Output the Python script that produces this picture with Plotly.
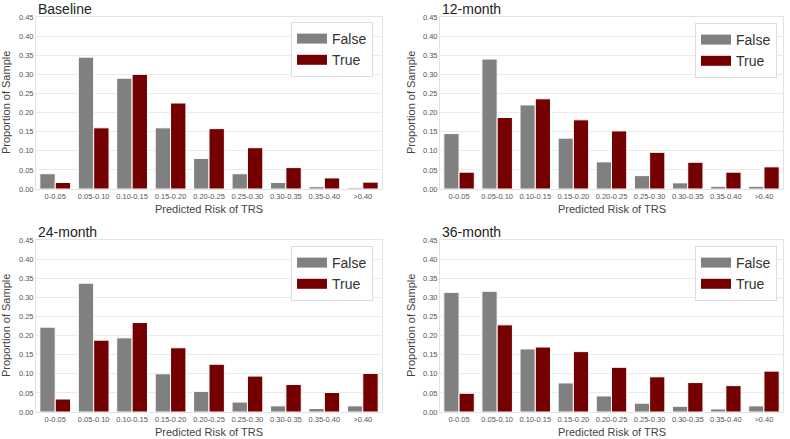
import plotly.graph_objects as go
from plotly.subplots import make_subplots

categories = ["0-0.05", "0.05-0.10", "0.10-0.15", "0.15-0.20", "0.20-0.25",
              "0.25-0.30", "0.30-0.35", "0.35-0.40", ">0.40"]
panel_titles = ["Baseline", "12-month", "24-month", "36-month"]

baseline_false = [0.040, 0.345, 0.290, 0.160, 0.080, 0.040, 0.017, 0.006, 0.003]
baseline_true = [0.017, 0.160, 0.300, 0.225, 0.158, 0.108, 0.056, 0.029, 0.018]
m12_false = [0.145, 0.340, 0.220, 0.133, 0.071, 0.035, 0.016, 0.007, 0.007]
m12_true = [0.044, 0.187, 0.236, 0.181, 0.152, 0.096, 0.070, 0.044, 0.058]
m24_false = [0.222, 0.337, 0.194, 0.100, 0.054, 0.026, 0.016, 0.009, 0.016]
m24_true = [0.034, 0.188, 0.234, 0.168, 0.125, 0.094, 0.072, 0.051, 0.101]
m36_false = [0.313, 0.316, 0.165, 0.076, 0.042, 0.023, 0.015, 0.008, 0.016]
m36_true = [0.049, 0.228, 0.170, 0.158, 0.117, 0.092, 0.077, 0.069, 0.107]

y_ticks = [0.00, 0.05, 0.10, 0.15, 0.20, 0.25, 0.30, 0.35, 0.40, 0.45]
x_title = "Predicted Risk of TRS"
y_title = "Proportion of Sample"

panels = [
    (baseline_false, baseline_true),
    (m12_false, m12_true),
    (m24_false, m24_true),
    (m36_false, m36_true),
]

GRAY = "#808080"
RED = "#740000"
FONT = "Liberation Sans, Arial, sans-serif"
W, H = 790, 439


def px(x):
    return x / W


def py(y):
    return 1 - y / H


fig = make_subplots(rows=2, cols=2)

# screen-pixel layout of panels (left, right, top, bottom)
boxes = [(36, 382, 17, 189), (440, 783, 17, 189),
         (36, 382, 240, 412), (440, 783, 240, 412)]
legend_pos = [(291, 22), (695, 23), (291, 246), (695, 246)]
title_pos = [(36, 9), (440, 9), (36, 232), (440, 232)]
ytitle_x = [6, 411, 6, 411]

for i, (fv, tv) in enumerate(panels):
    r, c = i // 2 + 1, i % 2 + 1
    leg = "legend" if i == 0 else f"legend{i+1}"
    fig.add_trace(go.Bar(x=categories, y=fv, name="False", marker_color=GRAY,
                         marker_line_color="white", marker_line_width=1,
                         showlegend=False), row=r, col=c)
    fig.add_trace(go.Bar(x=categories, y=tv, name="True", marker_color=RED,
                         marker_line_color="white", marker_line_width=1,
                         showlegend=False), row=r, col=c)
    # legend-only entries (wide patches)
    for nm, col in (("False", GRAY), ("True", RED)):
        fig.add_trace(go.Scatter(x=[None], y=[None], mode="lines", name=nm,
                                 line=dict(color=col, width=10),
                                 legend=leg, showlegend=True), row=r, col=c)

layout_updates = {}
for i, (l, rgt, t, b) in enumerate(boxes):
    ax = "" if i == 0 else str(i + 1)
    layout_updates[f"xaxis{ax}"] = dict(
        domain=[px(l), px(rgt)], range=[-0.5, 8.5], type="category",
        showgrid=False, showline=True, mirror=True, linecolor="#e3e3e3",
        linewidth=1, ticks="", tickangle=0, tickfont=dict(size=7.5, color="#555555"),
        automargin=False, zeroline=False, fixedrange=True)
    layout_updates[f"yaxis{ax}"] = dict(
        domain=[py(b), py(t)], range=[0, 0.45], tickvals=y_ticks,
        tickformat=".2f", showgrid=True, gridcolor="#ebebeb", gridwidth=1,
        showline=True, mirror=True, linecolor="#e3e3e3", linewidth=1,
        ticks="", tickfont=dict(size=7.5, color="#555555"),
        automargin=False, zeroline=False, fixedrange=True)
    lx, ly = legend_pos[i]
    key = "legend" if i == 0 else f"legend{i+1}"
    layout_updates[key] = dict(
        x=px(lx), y=py(ly), xanchor="left", yanchor="top",
        bgcolor="white", bordercolor="#dddddd", borderwidth=1,
        font=dict(size=14, color="#333333", family=FONT),
        itemwidth=30, tracegroupgap=0, entrywidth=45)

    # axis titles
    fig.add_annotation(text=x_title, x=px((l + rgt) / 2), y=py(b + 20),
                       xref="paper", yref="paper", xanchor="center", yanchor="middle",
                       showarrow=False, font=dict(size=11, color="#444444", family=FONT))
    fig.add_annotation(text=y_title, x=px(ytitle_x[i]), y=py((t + b) / 2),
                       xref="paper", yref="paper", xanchor="center", yanchor="middle",
                       textangle=-90, showarrow=False,
                       font=dict(size=11, color="#444444", family=FONT))

fig.update_layout(**layout_updates)

for i, txt in enumerate(panel_titles):
    tx, ty = title_pos[i]
    fig.add_annotation(text=txt, x=px(tx), y=py(ty), xref="paper", yref="paper",
                       xanchor="left", yanchor="middle", showarrow=False,
                       font=dict(size=14, color="#222222", family=FONT))

fig.update_layout(
    width=W, height=H, margin=dict(l=0, r=0, t=0, b=0, autoexpand=False),
    paper_bgcolor="white", plot_bgcolor="white",
    barmode="group", bargap=0.2, bargroupgap=0,
    font=dict(family=FONT),
)

fig.write_html(
    "out.html",
    config={"displayModeBar": False, "staticPlot": True},
    post_script="document.body.style.margin='0';document.body.style.overflow='hidden';",
)
